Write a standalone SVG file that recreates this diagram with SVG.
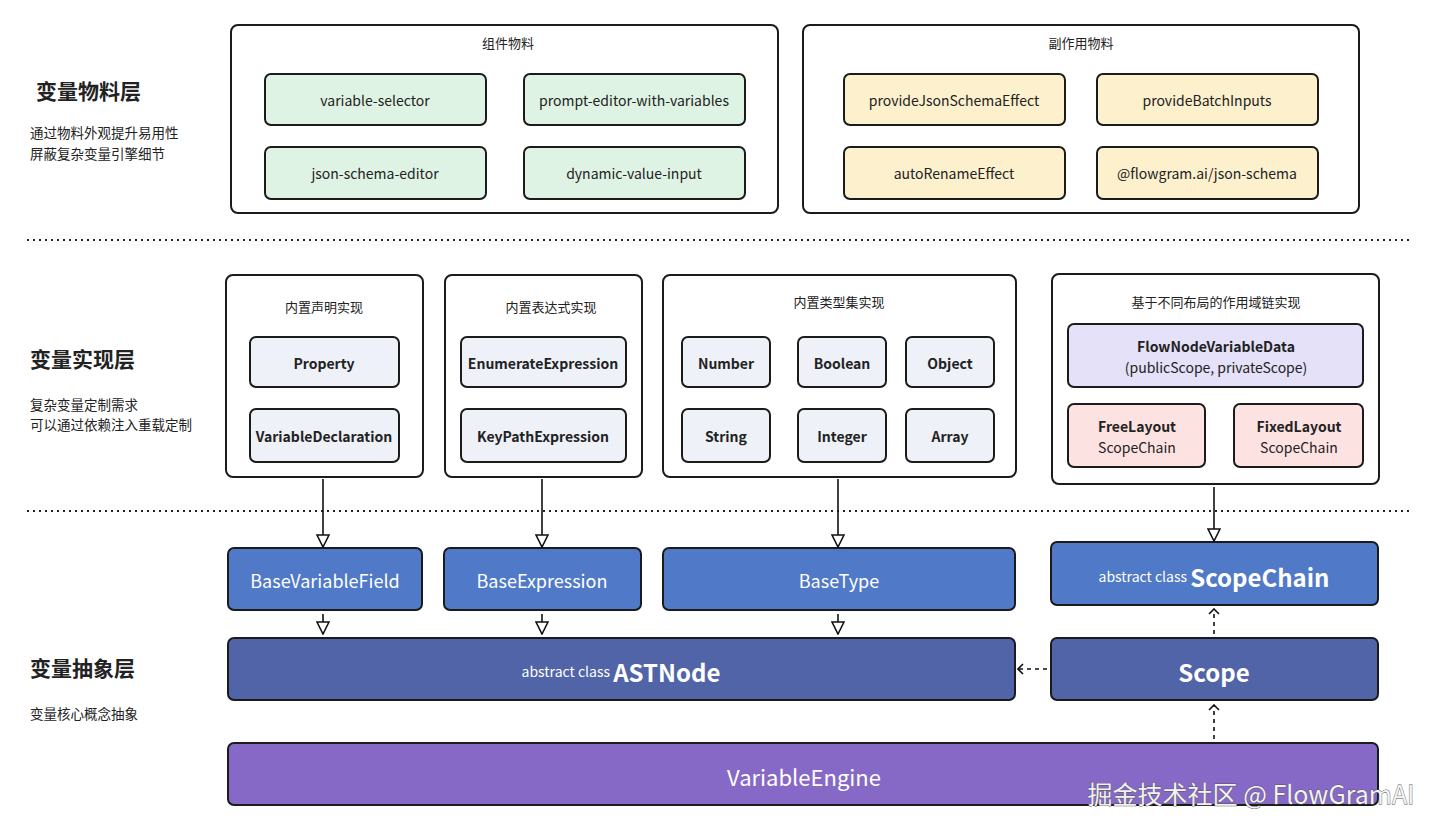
<svg xmlns="http://www.w3.org/2000/svg" width="1440" height="831" viewBox="0 0 1440 831">
<defs>
<style>
text{font-family:"Noto Sans CJK SC","Noto Sans",sans-serif;text-anchor:middle;dominant-baseline:central;fill:#222}
.box{stroke:#1b1b1b;stroke-width:2;}
.group{fill:#fff}
.green{fill:#dff3e5}
.yellow{fill:#fcf0cd}
.grey{fill:#eef1f8}
.lav{fill:#e4e1f8}
.pink{fill:#fde2e2}
.blue{fill:#5079c7}
.navy{fill:#5264a8}
.purple{fill:#8669c7}
.lbl{font-size:14px}
.b{font-weight:bold}
.title{font-size:13px}
.layer{font-size:21px;font-weight:bold;text-anchor:start}
.sub{font-size:13.5px;text-anchor:start}
.w{fill:#fff}
.sep{stroke:#222;stroke-width:2;stroke-dasharray:2 4}
.conn{stroke:#111;stroke-width:1.6;fill:none}
.dash{stroke-dasharray:4 4}
</style>
<marker id="tri" viewBox="0 0 14 14" refX="13" refY="7" markerWidth="14" markerHeight="14" markerUnits="userSpaceOnUse" orient="auto">
<path d="M1,1 L13,7 L1,13 Z" fill="#fff" stroke="#111" stroke-width="1.6"/>
</marker>
<marker id="chev" viewBox="0 0 12 12" refX="11" refY="6" markerWidth="12" markerHeight="12" markerUnits="userSpaceOnUse" orient="auto">
<path d="M6,1 L11,6 L6,11" fill="none" stroke="#111" stroke-width="1.6"/>
</marker>
</defs>
<rect width="1440" height="831" fill="#fff"/>

<g id="layer-labels">
<text class="layer" x="36" y="90">变量物料层</text>
<text class="sub" x="30" y="132">通过物料外观提升易用性</text>
<text class="sub" x="30" y="153">屏蔽复杂变量引擎细节</text>
<text class="layer" x="30" y="358">变量实现层</text>
<text class="sub" x="30" y="404">复杂变量定制需求</text>
<text class="sub" x="30" y="424">可以通过依赖注入重载定制</text>
<text class="layer" x="30" y="667">变量抽象层</text>
<text class="sub" x="30" y="713">变量核心概念抽象</text>
</g>

<g id="separators">
<line class="sep" x1="27" y1="240" x2="1413" y2="240"/>
<line class="sep" x1="27" y1="511" x2="1413" y2="511"/>
</g>

<g id="component-materials">
<rect class="box group" x="231" y="25" width="547" height="188" rx="7"/>
<text class="title" x="508" y="42">组件物料</text>
<rect class="box green" x="265" y="74" width="221" height="51" rx="6"/>
<text class="lbl" x="375" y="100">variable-selector</text>
<rect class="box green" x="524" y="74" width="221" height="51" rx="6"/>
<text class="lbl" x="634" y="100">prompt-editor-with-variables</text>
<rect class="box green" x="265" y="147" width="221" height="52" rx="6"/>
<text class="lbl" x="375" y="173">json-schema-editor</text>
<rect class="box green" x="524" y="147" width="221" height="52" rx="6"/>
<text class="lbl" x="634" y="173">dynamic-value-input</text>
</g>

<g id="effect-materials">
<rect class="box group" x="803" y="25" width="556" height="188" rx="7"/>
<text class="title" x="1081" y="42">副作用物料</text>
<rect class="box yellow" x="844" y="74" width="221" height="51" rx="6"/>
<text class="lbl" x="954" y="100">provideJsonSchemaEffect</text>
<rect class="box yellow" x="1097" y="74" width="221" height="51" rx="6"/>
<text class="lbl" x="1207" y="100">provideBatchInputs</text>
<rect class="box yellow" x="844" y="147" width="221" height="52" rx="6"/>
<text class="lbl" x="954" y="173">autoRenameEffect</text>
<rect class="box yellow" x="1097" y="147" width="221" height="52" rx="6"/>
<text class="lbl" x="1207" y="173">@flowgram.ai/json-schema</text>
</g>

<g id="decl-impl">
<rect class="box group" x="226" y="275" width="197" height="202" rx="7"/>
<text class="title" x="324" y="306">内置声明实现</text>
<rect class="box grey" x="250" y="337" width="149" height="50" rx="6"/>
<text class="lbl b" x="324" y="363">Property</text>
<rect class="box grey" x="250" y="409" width="149" height="53" rx="6"/>
<text class="lbl b" x="324" y="436">VariableDeclaration</text>
</g>

<g id="expr-impl">
<rect class="box group" x="445" y="275" width="197" height="202" rx="7"/>
<text class="title" x="551" y="306">内置表达式实现</text>
<rect class="box grey" x="461" y="337" width="165" height="50" rx="6"/>
<text class="lbl b" x="543" y="363">EnumerateExpression</text>
<rect class="box grey" x="461" y="409" width="165" height="53" rx="6"/>
<text class="lbl b" x="543" y="436">KeyPathExpression</text>
</g>

<g id="type-impl">
<rect class="box group" x="663" y="275" width="353" height="202" rx="7"/>
<text class="title" x="839" y="301">内置类型集实现</text>
<rect class="box grey" x="682" y="337" width="88" height="50" rx="6"/>
<text class="lbl b" x="726" y="363">Number</text>
<rect class="box grey" x="798" y="337" width="88" height="50" rx="6"/>
<text class="lbl b" x="842" y="363">Boolean</text>
<rect class="box grey" x="906" y="337" width="88" height="50" rx="6"/>
<text class="lbl b" x="950" y="363">Object</text>
<rect class="box grey" x="682" y="409" width="88" height="53" rx="6"/>
<text class="lbl b" x="726" y="436">String</text>
<rect class="box grey" x="798" y="409" width="88" height="53" rx="6"/>
<text class="lbl b" x="842" y="436">Integer</text>
<rect class="box grey" x="906" y="409" width="88" height="53" rx="6"/>
<text class="lbl b" x="950" y="436">Array</text>
</g>

<g id="scope-impl">
<rect class="box group" x="1052" y="274" width="327" height="210" rx="7"/>
<text class="title" x="1216" y="301">基于不同布局的作用域链实现</text>
<rect class="box lav" x="1068" y="324" width="295" height="63" rx="6"/>
<text class="lbl b" x="1216" y="346">FlowNodeVariableData</text>
<text class="lbl" x="1216" y="367">(publicScope, privateScope)</text>
<rect class="box pink" x="1068" y="404" width="137" height="63" rx="6"/>
<text class="lbl b" x="1137" y="426">FreeLayout</text>
<text class="lbl" x="1137" y="447">ScopeChain</text>
<rect class="box pink" x="1234" y="404" width="129" height="63" rx="6"/>
<text class="lbl b" x="1299" y="426">FixedLayout</text>
<text class="lbl" x="1299" y="447">ScopeChain</text>
</g>

<g id="base-variable-field">
<rect class="box blue" x="228" y="548" width="194" height="62" rx="6"/>
<text class="w" x="325" y="580" font-size="18">BaseVariableField</text>
</g>
<g id="base-expression">
<rect class="box blue" x="444" y="548" width="197" height="62" rx="6"/>
<text class="w" x="542" y="580" font-size="18">BaseExpression</text>
</g>
<g id="base-type">
<rect class="box blue" x="663" y="548" width="352" height="62" rx="6"/>
<text class="w" x="839" y="580" font-size="18">BaseType</text>
</g>
<g id="scope-chain">
<rect class="box blue" x="1051" y="542" width="327" height="63" rx="6"/>
<text class="w" x="1214" y="576"><tspan font-size="14">abstract class </tspan><tspan font-size="24" font-weight="bold">ScopeChain</tspan></text>
</g>
<g id="ast-node">
<rect class="box navy" x="228" y="638" width="787" height="62" rx="6"/>
<text class="w" x="621" y="671"><tspan font-size="14">abstract class </tspan><tspan font-size="24" font-weight="bold">ASTNode</tspan></text>
</g>
<g id="scope">
<rect class="box navy" x="1051" y="638" width="327" height="62" rx="6"/>
<text class="w b" x="1214" y="671" font-size="24">Scope</text>
</g>
<g id="variable-engine">
<rect class="box purple" x="228" y="743" width="1150" height="62" rx="6"/>
<text class="w" x="804" y="776" font-size="22">VariableEngine</text>
</g>

<g id="connectors">
<line class="conn" x1="323" y1="479" x2="323" y2="547" marker-end="url(#tri)"/>
<line class="conn" x1="542" y1="479" x2="542" y2="547" marker-end="url(#tri)"/>
<line class="conn" x1="838" y1="479" x2="838" y2="547" marker-end="url(#tri)"/>
<line class="conn" x1="1214" y1="487" x2="1214" y2="541" marker-end="url(#tri)"/>
<line class="conn" x1="323" y1="614" x2="323" y2="634" marker-end="url(#tri)"/>
<line class="conn" x1="542" y1="614" x2="542" y2="634" marker-end="url(#tri)"/>
<line class="conn" x1="838" y1="614" x2="838" y2="634" marker-end="url(#tri)"/>
<line class="conn dash" x1="1047" y1="669" x2="1018" y2="669" marker-end="url(#chev)"/>
<line class="conn dash" x1="1214" y1="634" x2="1214" y2="609" marker-end="url(#chev)"/>
<line class="conn dash" x1="1214" y1="739" x2="1214" y2="705" marker-end="url(#chev)"/>
</g>

<g id="site-watermark">
<text x="1251" y="793" font-size="25" stroke="#555" stroke-width="0.8" paint-order="stroke" style="fill:#f2f2f2">掘金技术社区 @ FlowGramAI</text>
</g>
</svg>
